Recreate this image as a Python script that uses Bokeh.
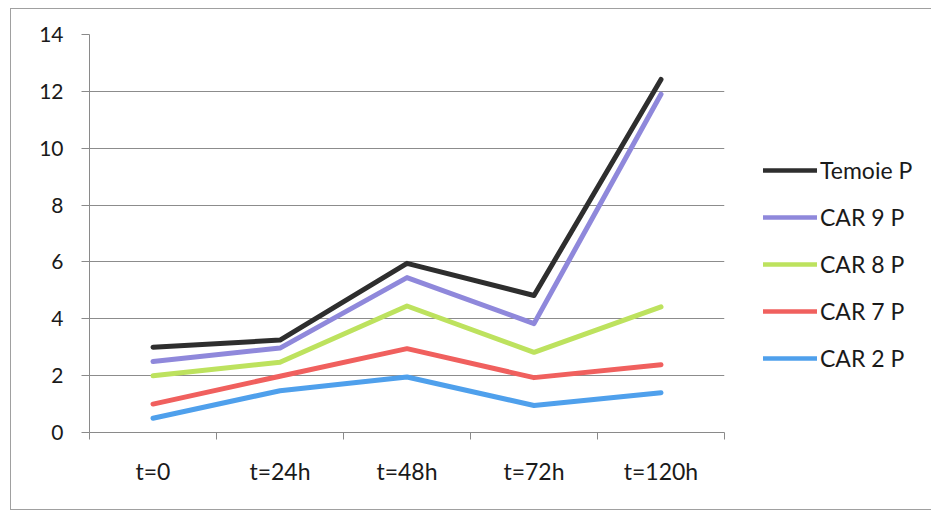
from bokeh.plotting import figure
from bokeh.layouts import row
from bokeh.models import FixedTicker, Legend, LegendItem
from bokeh.embed import file_html
from bokeh.resources import INLINE

# Sampling times and measured values per strain
categories = ["t=0", "t=24h", "t=48h", "t=72h", "t=120h"]
temoie_p = [3.0, 3.25, 5.95, 4.82, 12.42]
car9_p = [2.5, 2.97, 5.45, 3.83, 11.9]
car8_p = [2.0, 2.47, 4.45, 2.82, 4.42]
car7_p = [1.0, 1.98, 2.95, 1.93, 2.38]
car2_p = [0.5, 1.47, 1.95, 0.95, 1.4]
y_ticks = [0, 2, 4, 6, 8, 10, 12, 14]

series = [
    ("Temoie P", temoie_p, "#2e2e2e"),
    ("CAR 9 P", car9_p, "#8f88db"),
    ("CAR 8 P", car8_p, "#bde25e"),
    ("CAR 7 P", car7_p, "#f0605e"),
    ("CAR 2 P", car2_p, "#4fa0ec"),
]

FONT = "Lato"
TEXT = "#1a1a1a"
AXIS = "#8a8a8a"

# each category sits in the middle of its unit-wide slot
xs = [i + 0.5 for i in range(len(categories))]

p = figure(width=715, height=500, output_backend="svg", toolbar_location=None,
           x_range=(0, len(categories)), y_range=(0, 14),
           min_border_left=78, min_border_right=2,
           min_border_top=25, min_border_bottom=77)
p.outline_line_color = None
p.background_fill_color = "white"
p.border_fill_color = "white"

for name, vals, color in series:
    p.line(xs, vals, line_color=color, line_width=5, line_join="round",
           line_cap="round")

# y axis
p.yaxis.ticker = FixedTicker(ticks=y_ticks)
p.yaxis.axis_line_color = AXIS
p.yaxis.major_tick_line_color = AXIS
p.yaxis.major_tick_out = 8
p.yaxis.major_tick_in = 0
p.yaxis.minor_tick_line_color = None
p.yaxis.major_label_standoff = 18
p.yaxis.major_label_text_font = FONT
p.yaxis.major_label_text_font_size = "21px"
p.yaxis.major_label_text_color = TEXT

# x axis: labels at slot centres, tick marks on slot boundaries
p.xaxis.ticker = FixedTicker(ticks=xs, minor_ticks=list(range(len(categories) + 1)))
p.xaxis.major_label_overrides = {x: c for x, c in zip(xs, categories)}
p.xaxis.axis_line_color = AXIS
p.xaxis.major_tick_line_color = None
p.xaxis.minor_tick_line_color = AXIS
p.xaxis.minor_tick_out = 7
p.xaxis.minor_tick_in = 0
p.xaxis.major_label_standoff = 17
p.xaxis.major_label_text_font = FONT
p.xaxis.major_label_text_font_size = "23px"
p.xaxis.major_label_text_color = TEXT

p.xgrid.grid_line_color = None
p.ygrid.ticker = FixedTicker(ticks=y_ticks)
p.ygrid.grid_line_color = "#8c8c8c"
p.ygrid.grid_line_width = 1.2

# legend panel to the right of the plot area; its series sit outside the
# panel's visible range so only the legend keys show
lg = figure(width=205, height=500, output_backend="svg", toolbar_location=None,
            x_range=(-20, -19), y_range=(0, 1), min_border=0)
lg.axis.visible = False
lg.grid.visible = False
lg.outline_line_color = None
lg.background_fill_color = "white"
lg.border_fill_color = "white"

items = []
for name, vals, color in series:
    r = lg.line(xs, vals, line_color=color, line_width=4.5, line_cap="round")
    items.append(LegendItem(label=name, renderers=[r]))

legend = Legend(items=items, location=(37, 60), orientation="vertical",
                glyph_width=54, glyph_height=20, label_height=20,
                spacing=19, label_standoff=3, padding=0, margin=0,
                label_text_font=FONT, label_text_font_size="23px",
                label_text_color=TEXT, border_line_color=None,
                background_fill_alpha=0)
lg.add_layout(legend, "center")

chart = row(p, lg, spacing=0)
chart.margin = (8, 0, 0, 10)
chart.styles = {"border-top": "1px solid #a0a0a0", "border-left": "1px solid #a0a0a0",
                "border-bottom": "1px solid #a0a0a0"}

open("out.html", "w").write(file_html(chart, INLINE))
